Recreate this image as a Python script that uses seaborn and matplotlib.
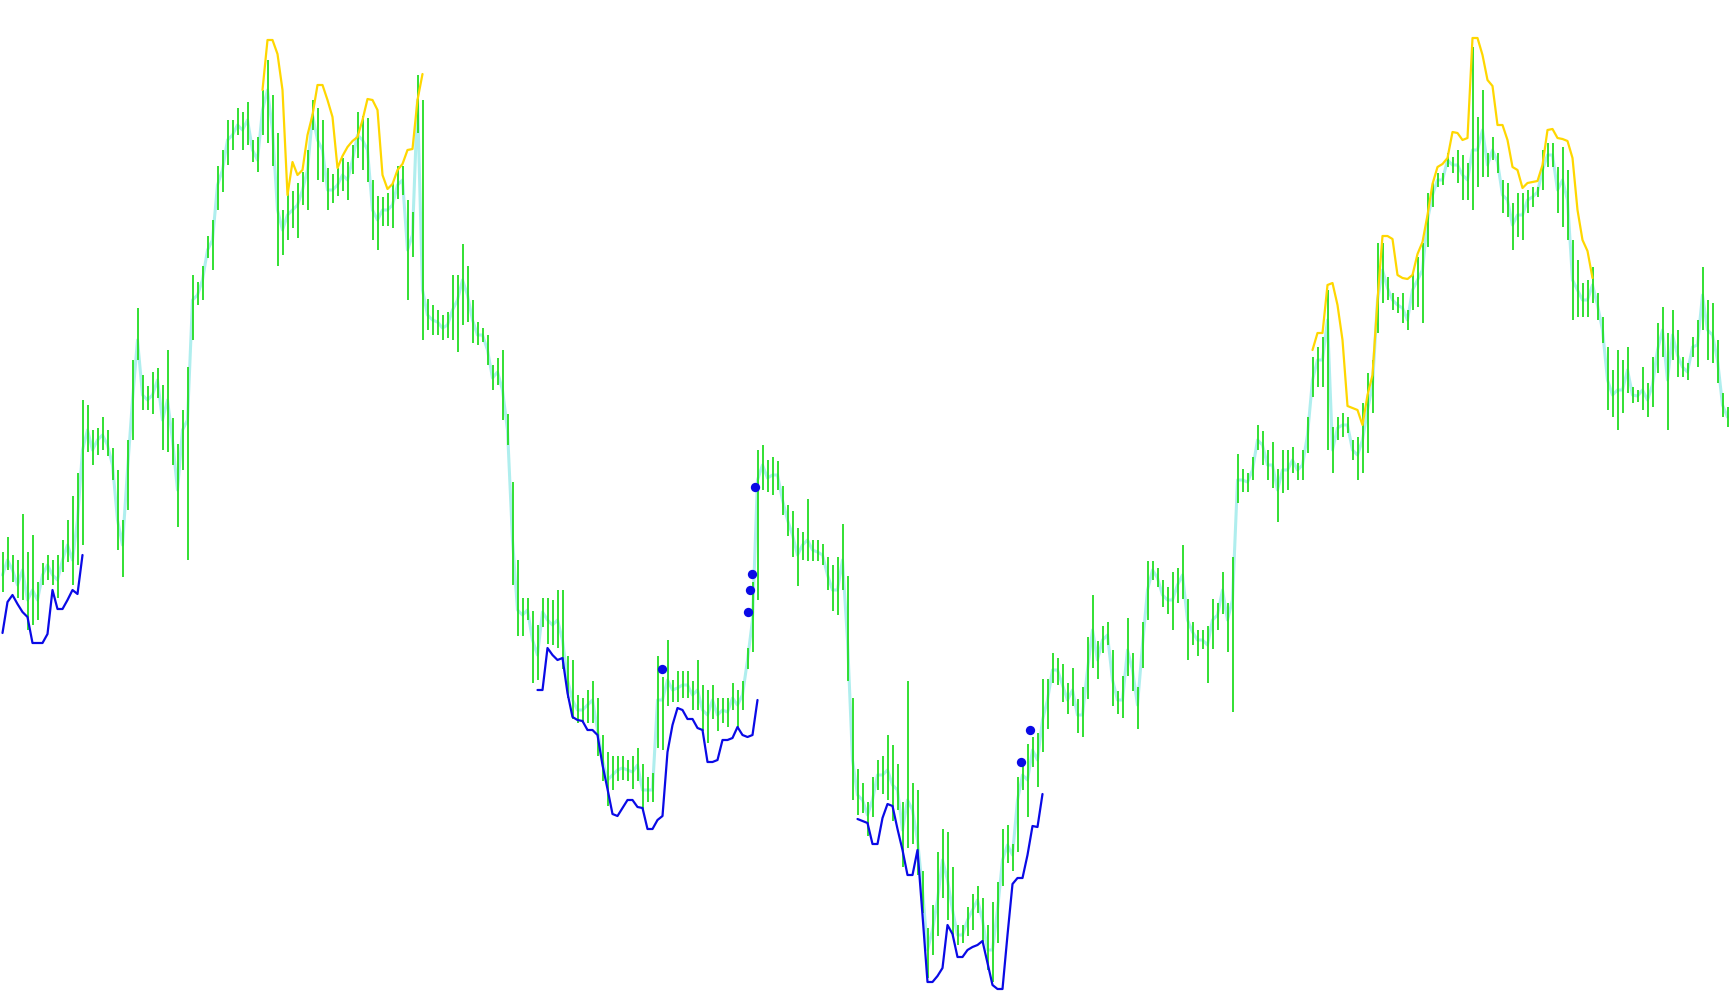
import matplotlib
matplotlib.use("Agg")
import matplotlib.pyplot as plt
import numpy as np
import pandas as pd
import seaborn as sns

# one entry per bar, price units
HIGH = [
    448, 463, 445, 440, 486, 448, 465, 418, 437, 445,
    440, 445, 460, 480, 504, 527, 600, 595, 570, 572,
    583, 570, 552, 530, 480, 560, 640, 692, 625, 614,
    628, 632, 615, 650, 582, 556, 590, 633, 725, 718,
    734, 764, 780, 834, 850, 880, 880, 892, 888, 898,
    860, 863, 910, 940, 905, 867, 790, 810, 809, 817,
    828, 850, 900, 892, 880, 832, 826, 832, 842, 838,
    855, 888, 884, 882, 820, 804, 803, 807, 817, 834,
    834, 800, 788, 925, 900, 701, 695, 690, 685, 688,
    725, 725, 756, 734, 700, 678, 672, 665, 635, 642,
    650, 586, 518, 440, 402, 402, 389, 375, 402, 402,
    400, 410, 410, 344, 340, 305, 302, 310, 319, 302,
    265, 248, 244, 244, 244, 240, 244, 252, 236, 223,
    227, 344, 323, 360, 320, 329, 329, 329, 319, 340,
    315, 310, 315, 302, 302, 302, 317, 310, 319, 352,
    418, 550, 555, 540, 543, 539, 514, 495, 489, 472,
    468, 501, 460, 460, 456, 443, 435, 443, 476, 424,
    302, 231, 217, 198, 223, 240, 244, 265, 255, 236,
    198, 319, 217, 210, 129, 72, 95, 148, 171, 168,
    133, 75, 75, 93, 106, 114, 102, 75, 98, 118,
    171, 175, 156, 223, 240, 256, 263, 267, 321, 321,
    347, 342, 336, 317, 332, 301, 313, 363, 405, 359,
    374, 378, 350, 309, 324, 382, 347, 313, 378, 439,
    439, 432, 420, 413, 428, 432, 455, 401, 378, 370,
    370, 374, 401, 397, 428, 397, 443, 546, 531, 527,
    543, 575, 569, 550, 558, 531, 550, 550, 553, 537,
    550, 583, 643, 653, 663, 710, 573, 583, 587, 583,
    560, 563, 597, 627, 640, 757, 757, 723, 707, 703,
    707, 690, 727, 743, 757, 807, 817, 827, 827, 847,
    843, 850, 845, 837, 953, 883, 910, 847, 863, 847,
    820, 817, 797, 807, 807, 810, 813, 813, 850, 857,
    857, 833, 853, 830, 760, 740, 717, 720, 733, 707,
    683, 653, 630, 650, 640, 653, 613, 610, 633, 617,
    643, 677, 693, 667, 690, 670, 643, 637, 663, 680,
    733, 700, 697, 660, 607, 593,
]
LOW = [
    408, 430, 418, 402, 400, 370, 375, 380, 415, 420,
    415, 402, 428, 438, 415, 435, 455, 548, 535, 545,
    550, 544, 520, 450, 423, 490, 560, 640, 590, 590,
    586, 602, 550, 548, 535, 473, 530, 440, 660, 695,
    700, 742, 730, 790, 808, 835, 850, 865, 850, 855,
    838, 828, 865, 857, 834, 734, 745, 760, 772, 762,
    795, 790, 870, 820, 818, 790, 797, 804, 809, 800,
    826, 842, 830, 818, 760, 750, 774, 774, 772, 801,
    805, 700, 743, 867, 660, 670, 665, 665, 660, 662,
    660, 648, 675, 678, 657, 655, 658, 635, 610, 615,
    580, 555, 415, 364, 364, 380, 317, 320, 373, 356,
    355, 352, 331, 302, 281, 277, 277, 277, 277, 244,
    219, 194, 210, 219, 220, 219, 211, 219, 190, 198,
    198, 252, 250, 294, 298, 298, 302, 302, 290, 290,
    269, 257, 281, 269, 277, 273, 290, 273, 290, 331,
    348, 400, 510, 508, 505, 510, 485, 464, 443, 414,
    440, 439, 439, 439, 435, 410, 389, 385, 410, 319,
    200, 185, 187, 164, 183, 210, 206, 200, 179, 190,
    133, 152, 156, 125, 87, 22, 45, 64, 102, 80,
    64, 55, 57, 64, 70, 87, 57, 30, 18, 57,
    114, 137, 129, 148, 210, 183, 233, 213, 248, 271,
    317, 315, 298, 286, 294, 267, 263, 301, 332, 321,
    347, 355, 294, 286, 282, 324, 309, 271, 332, 380,
    420, 413, 393, 386, 370, 397, 401, 340, 355, 344,
    351, 317, 351, 370, 386, 348, 288, 497, 508, 508,
    520, 550, 535, 520, 512, 478, 507, 510, 527, 520,
    520, 547, 603, 613, 613, 550, 527, 560, 563, 567,
    540, 520, 527, 547, 587, 667, 697, 700, 690, 687,
    677, 670, 690, 693, 677, 753, 793, 813, 815, 833,
    827, 817, 800, 800, 790, 813, 823, 823, 840, 827,
    787, 783, 750, 763, 760, 787, 793, 803, 810, 833,
    833, 787, 773, 760, 680, 683, 683, 683, 697, 680,
    657, 590, 583, 570, 587, 607, 597, 598, 590, 583,
    593, 627, 643, 570, 640, 623, 623, 620, 643, 633,
    670, 640, 637, 617, 583, 573,
]
CLOSE = [
    425, 440, 430, 415, 430, 400, 410, 400, 425, 435,
    425, 420, 440, 455, 440, 480, 550, 570, 550, 560,
    565, 555, 535, 480, 455, 530, 600, 660, 605, 600,
    605, 620, 580, 600, 560, 510, 570, 580, 700, 705,
    720, 750, 760, 815, 830, 860, 865, 875, 870, 880,
    850, 840, 890, 910, 870, 790, 770, 785, 790, 795,
    810, 830, 885, 860, 850, 810, 810, 815, 825, 820,
    840, 865, 860, 850, 790, 780, 790, 790, 795, 815,
    820, 750, 765, 900, 710, 685, 680, 678, 672, 675,
    690, 700, 720, 705, 680, 665, 665, 650, 622, 628,
    610, 570, 460, 390, 385, 390, 360, 345, 388, 380,
    375, 380, 360, 320, 300, 290, 290, 295, 300, 270,
    240, 220, 225, 230, 232, 230, 228, 235, 210, 210,
    210, 300, 300, 320, 310, 312, 315, 315, 305, 310,
    290, 285, 300, 285, 290, 288, 302, 295, 305, 340,
    380, 520, 535, 522, 525, 525, 500, 480, 465, 445,
    455, 460, 450, 448, 445, 425, 410, 410, 440, 360,
    240, 205, 200, 185, 200, 225, 225, 230, 215, 210,
    170, 200, 190, 160, 110, 50, 70, 100, 140, 120,
    90, 65, 65, 80, 90, 100, 80, 50, 50, 90,
    140, 155, 145, 200, 225, 220, 250, 240, 280, 300,
    330, 330, 315, 300, 310, 285, 285, 330, 370, 340,
    360, 365, 320, 300, 300, 350, 330, 295, 355, 410,
    430, 422, 405, 400, 400, 415, 425, 380, 368, 360,
    360, 355, 380, 385, 410, 380, 400, 520, 520, 518,
    530, 560, 555, 535, 535, 510, 530, 530, 540, 530,
    535, 565, 620, 640, 640, 680, 550, 572, 575, 575,
    550, 545, 560, 590, 615, 700, 730, 712, 700, 695,
    692, 680, 710, 720, 730, 780, 805, 820, 820, 840,
    835, 835, 825, 820, 850, 850, 870, 835, 850, 838,
    805, 800, 775, 785, 785, 800, 803, 808, 830, 845,
    845, 810, 820, 800, 720, 710, 700, 700, 715, 695,
    670, 620, 605, 610, 610, 630, 605, 604, 610, 600,
    615, 650, 670, 620, 665, 645, 633, 628, 653, 655,
    705, 670, 665, 640, 595, 583,
]

# trailing stops, each run given by its first bar and the values that follow
UPPER_STOP_START = [52, 262]
UPPER_STOP = [
    [910, 960, 960, 946, 910, 805, 838, 825, 830, 865,
     885, 915, 915, 900, 883, 832, 844, 853, 859, 863,
     880, 901, 900, 890, 825, 811, 816, 830, 836, 850,
     851, 900, 926],
    [650, 667, 667, 715, 717, 695, 660, 594, 592, 590,
     575, 605, 625, 700, 764, 764, 761, 725, 722, 721,
     725, 746, 758, 785, 816, 833, 836, 842, 868, 867,
     860, 862, 962, 962, 945, 920, 914, 875, 875, 860,
     833, 830, 812, 817, 818, 819, 835, 870, 871, 862,
     861, 859, 842, 790, 760, 749, 722],
]
LOWER_STOP_START = [0, 107, 171]
LOWER_STOP = [
    [367, 398, 405, 396, 388, 383, 357, 357, 357, 366,
     410, 391, 391, 400, 410, 406, 445],
    [310, 310, 352, 345, 340, 342, 307, 283, 280, 279,
     270, 270, 265, 235, 211, 186, 184, 192, 200, 200,
     193, 192, 171, 171, 180, 184, 248, 275, 292, 290,
     281, 281, 272, 270, 238, 238, 240, 260, 260, 262,
     273, 265, 263, 265, 300],
    [181, 179, 177, 156, 156, 182, 196, 194, 171, 150,
     125, 125, 150, 85, 18, 18, 24, 32, 75, 66,
     43, 43, 50, 53, 55, 59, 37, 15, 11, 11,
     65, 116, 122, 122, 145, 174, 173, 206],
]

SIGNAL_BAR = [131.9, 149.1, 149.5, 149.9, 150.5, 203.7, 205.5]
SIGNAL_PRICE = [331, 388, 410, 426, 513, 238, 270]

BAR_COLOR = "#22dd22"
CLOSE_COLOR = "#afeeee"
UPPER_COLOR = "#ffd700"
LOWER_COLOR = "#0a0ae6"


def main():
    sns.set_style("white")

    bars = pd.DataFrame({
        "bar": np.arange(len(HIGH)),
        "high": HIGH,
        "low": LOW,
        "close": CLOSE,
    })

    fig = plt.figure(figsize=(17.3, 10.05), dpi=100)
    ax = fig.add_axes([0, 0, 1, 1])

    sns.lineplot(data=bars, x="bar", y="close", color=CLOSE_COLOR, linewidth=2.2, ax=ax, zorder=1)
    ax.vlines(bars["bar"], bars["low"], bars["high"], color=BAR_COLOR, linewidth=1.3, zorder=2)

    for start, values in zip(UPPER_STOP_START, UPPER_STOP):
        ax.plot(np.arange(start, start + len(values)), values, color=UPPER_COLOR,
                linewidth=1.6, solid_joinstyle="round", zorder=3)
    for start, values in zip(LOWER_STOP_START, LOWER_STOP):
        ax.plot(np.arange(start, start + len(values)), values, color=LOWER_COLOR,
                linewidth=1.6, solid_joinstyle="round", zorder=3)

    sns.scatterplot(x=SIGNAL_BAR, y=SIGNAL_PRICE, color=LOWER_COLOR, s=45, linewidth=0, ax=ax, zorder=4)

    ax.set_xlim(-0.5, len(HIGH) - 0.5)
    ax.set_ylim(-5, 1000)
    ax.axis("off")

    fig.savefig("out.png", dpi=100, facecolor="white")
    plt.close(fig)


if __name__ == "__main__":
    main()
